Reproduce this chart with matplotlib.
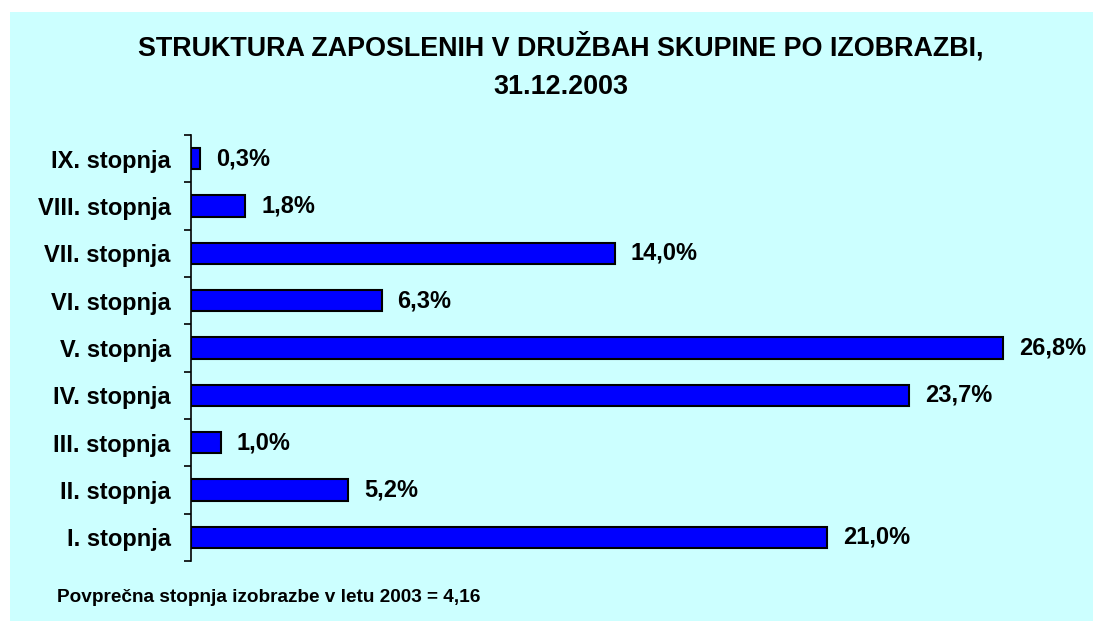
import matplotlib
matplotlib.use("Agg")
import matplotlib.pyplot as plt
import matplotlib.patches as mpatches
import numpy as np

plt.rcParams["font.family"] = ["Liberation Sans", "DejaVu Sans"]
plt.rcParams["font.weight"] = "bold"

# ── data ─────────────────────────────────────────────────────────────────────
CATEGORIES = ["I. stopnja", "II. stopnja", "III. stopnja", "IV. stopnja",
              "V. stopnja", "VI. stopnja", "VII. stopnja", "VIII. stopnja",
              "IX. stopnja"]
SHARES = [21.0, 5.2, 1.0, 23.7, 26.8, 6.3, 14.0, 1.8, 0.3]

TITLE = "STRUKTURA ZAPOSLENIH V DRUŽBAH SKUPINE PO IZOBRAZBI,\n31.12.2003"
NOTE = "Povprečna stopnja izobrazbe v letu 2003 = 4,16"

W, H = 1093, 622
BG = "#CCFFFF"

fig = plt.figure(figsize=(W / 100, H / 100), dpi=100)
fig.patch.set_facecolor("white")
fig.patches.append(mpatches.Rectangle((10 / W, 1 / H), 1 - 10 / W, 1 - 13 / H,
                                      transform=fig.transFigure,
                                      facecolor=BG, edgecolor="none", zorder=0))

xmax = 28
left, right = 190.7, 190.7 + xmax * 30.3
top, bottom = 135, 561
ax = fig.add_axes([left / W, 1 - bottom / H, (right - left) / W, (bottom - top) / H])
ax.set_facecolor("none")
ax.set_zorder(2)

y = np.arange(len(CATEGORIES))
ax.barh(y, SHARES, height=0.45, color="#0000FF", edgecolor="black", linewidth=1.5)

for yi, v in zip(y, SHARES):
    ax.annotate(f"{v:.1f}%".replace(".", ","), xy=(v, yi), xytext=(11.5, 0),
                textcoords="offset points", ha="left", va="center",
                fontsize=17, fontweight="bold", annotation_clip=False)

ax.set_xlim(0, xmax)
ax.set_ylim(-0.5, len(CATEGORIES) - 0.5)
for s in ["top", "right", "bottom"]:
    ax.spines[s].set_visible(False)
ax.spines["left"].set_linewidth(1.2)
ax.set_xticks([])
ax.set_yticks(y)
ax.set_yticklabels(CATEGORIES, fontsize=17, fontweight="bold")
ax.tick_params(axis="y", which="major", length=0, pad=14.5)
ax.set_yticks(np.arange(-0.5, len(CATEGORIES)), minor=True)
ax.tick_params(axis="y", which="minor", length=5, width=1.2, direction="out")

fig.text(561 / W, 1 - 66 / H, TITLE, ha="center", va="center",
         fontsize=19.4, fontweight="bold", linespacing=1.6)
fig.text(57 / W, 1 - 598 / H, NOTE, ha="left", va="center",
         fontsize=13.7, fontweight="bold")

fig.savefig("out.png", dpi=100, facecolor=fig.get_facecolor())
